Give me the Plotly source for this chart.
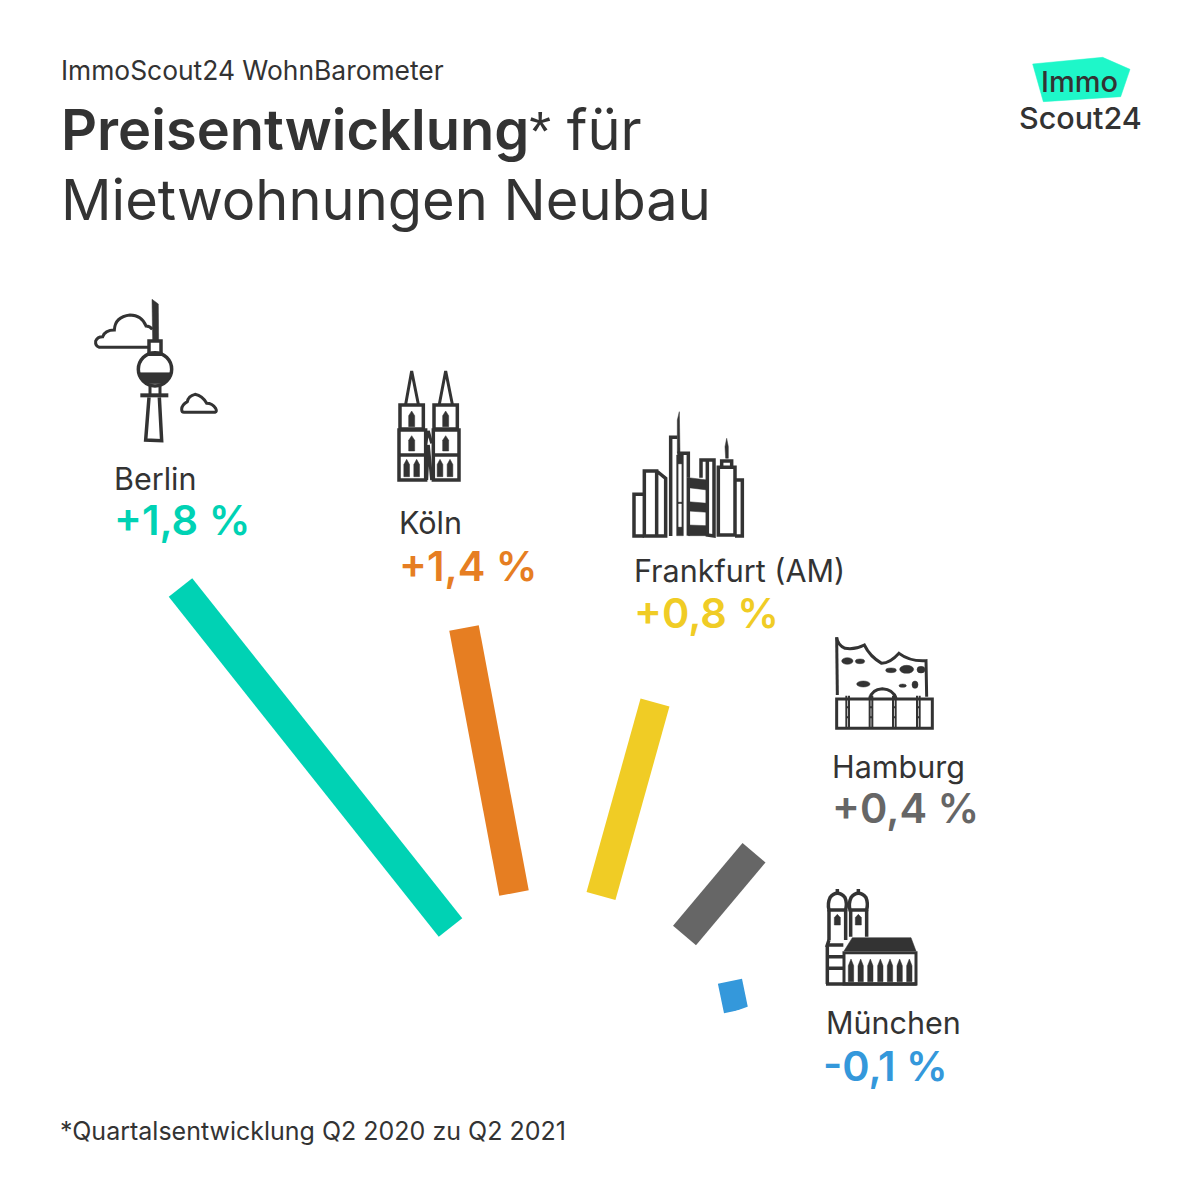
import math
import re
import plotly.graph_objects as go

# ---- data -----------------------------------------------------------------
cities = ["Berlin", "Köln", "Frankfurt (AM)", "Hamburg", "München"]
changes = ["+1,8 %", "+1,4 %", "+0,8 %", "+0,4 %", "-0,1 %"]
r_inner = [183.7, 187.7, 183.6, 187.0, 178.2]
r_outer = [617.8, 457.2, 384.4, 295.0, 202.2]
theta_inner = [126.59, 104.18, 77.10, 48.25, 25.42]
theta_outer = [127.90, 102.12, 75.69, 48.88, 23.77]
colors = ["#00D2B4", "#E67E22", "#F0CC25", "#666666", "#3498DB"]
city_pos = [(114, 478), (399, 522), (634, 570), (832, 766), (826, 1022)]
value_pos = [(113.5, 520), (399, 566), (633.5, 613), (831.5, 808), (823, 1066)]

W = H = 1200
FONT = "Inter"
INK = "#333333"
CX, CY, R = 560.0, 1075.0, 650.0
SECTOR = [20, 140]

fig = go.Figure()
for i, city in enumerate(cities):
    fig.add_trace(go.Scatterpolar(
        r=[r_inner[i], r_outer[i]],
        theta=[theta_inner[i], theta_outer[i]],
        mode="lines",
        line=dict(color=colors[i], width=30),
        name=city,
        showlegend=False,
        hovertemplate=city + " " + changes[i] + "<extra></extra>",
    ))


def px(x, y):
    return x / W, 1 - y / H


def path(ox, oy, s):
    out = []
    for tok in re.findall(r"[MLQCZ]|-?\d+\.?\d*\s+-?\d+\.?\d*", s):
        if tok in "MLQCZ":
            out.append(tok)
        else:
            a, b = tok.split()
            xp, yp = px(ox + float(a) / 3, oy + float(b) / 3)
            out.append(f"{xp:.5f},{yp:.5f}")
    return " ".join(out)


shapes = []


def stroke(ox, oy, s, w=3):
    shapes.append(dict(type="path", xref="paper", yref="paper", path=path(ox, oy, s),
                       line=dict(color=INK, width=w), fillcolor="rgba(0,0,0,0)"))


def fill(ox, oy, s, color=INK):
    shapes.append(dict(type="path", xref="paper", yref="paper", path=path(ox, oy, s),
                       line=dict(color=color, width=0.5), fillcolor=color))


def ell(ox, oy, cx, cy, rx, ry, filled=False, w=3):
    x0, y0 = px(ox + (cx - rx) / 3, oy + (cy + ry) / 3)
    x1, y1 = px(ox + (cx + rx) / 3, oy + (cy - ry) / 3)
    shapes.append(dict(type="circle", xref="paper", yref="paper", x0=x0, y0=y0, x1=x1, y1=y1,
                       line=dict(color=INK, width=0.5 if filled else w),
                       fillcolor=INK if filled else "rgba(0,0,0,0)"))


def gothic(ox, oy, xc, top, bottom, w):
    h = w / 2
    fill(ox, oy, f"M{xc} {top} L{xc + h} {top + (bottom - top) * 0.3} L{xc + h} {bottom} "
                 f"L{xc - h} {bottom} L{xc - h} {top + (bottom - top) * 0.3} Z")


# Logo
fill(1010, 50, "M68 42 L278 22 L360 58 L332 140 L100 155 Z", "#1EF7C9")

# Berlin
O = (80, 290)
fill(*O, "M216 28 L235 42 L236 150 L218 150 Z")
stroke(*O, "M207 153 L243 153 L243 193 L207 193 Z", 3.5)
ell(*O, 225, 238, 50, 50, w=3.5)
fill(*O, "M176 248 L274 248 L268 265 L250 281 L200 281 L182 265 Z")
stroke(*O, "M210 285 L210 313 M240 285 L240 313")
stroke(*O, "M181 316 L265 316", 4)
stroke(*O, "M207 322 L197 450 L245 452 L238 322", 3.5)
stroke(*O, "M205 172 L58 172 Q45 168 47 153 Q52 140 68 140 Q75 120 103 120 Q105 80 150 75 Q185 75 198 108 Q210 108 217 118")
stroke(*O, "M312 367 L405 367 Q412 365 407 355 Q397 340 380 340 Q368 318 345 313 Q325 318 322 335 Q305 345 305 358 Q305 367 312 367")

# Köln
O = (385, 365)
stroke(*O, "M62 118 L80 18 L100 118 M163 118 L182 18 L202 118")
stroke(*O, "M45 120 L115 120 L115 192 L45 192 Z M147 120 L217 120 L217 192 L147 192 Z", 3.5)
stroke(*O, "M42 195 L122 195 L122 345 L42 345 Z M42 270 L122 270", 3.5)
stroke(*O, "M145 195 L222 195 L222 345 L145 345 Z M145 270 L222 270", 3.5)
stroke(*O, "M122 235 L130 198 L140 235 M125 345 L130 240 L140 345")
for x, t, b, w in [(80, 138, 185, 18), (182, 138, 185, 18), (80, 212, 258, 18), (182, 212, 258, 18),
                   (65, 283, 335, 17), (95, 283, 335, 17), (165, 283, 335, 17), (195, 283, 335, 17)]:
    gothic(*O, x, t, b, w)

# Frankfurt
O = (620, 405)
stroke(*O, "M72 268 L42 268 L42 393 L72 393", 3.5)
stroke(*O, "M73 393 L73 198 L110 198 L110 393 Z M110 198 L137 220 L137 393 L110 393", 3.5)
stroke(*O, "M152 393 L152 97 L172 97", 3.5)
fill(*O, "M178 20 L172 45 L172 145 L180 145 Z")
stroke(*O, "M172 145 L205 145 L205 218", 3.5)
fill(*O, "M170 150 L190 150 L190 392 L170 392 Z")
fill(*O, "M176 178 L184 178 L184 290 L176 290 Z M176 297 L184 297 L184 365 L176 365 Z", "#FFFFFF")
stroke(*O, "M205 218 L205 392", 3.5)
fill(*O, "M205 218 L262 225 L262 255 L205 248 Z")
fill(*O, "M205 290 L262 295 L262 322 L205 318 Z")
fill(*O, "M205 360 L262 362 L262 392 L205 392 Z")
stroke(*O, "M243 218 L243 165 L282 165 L282 393 L262 390 L262 170", 3.5)
fill(*O, "M320 100 L315 125 L317 160 L325 160 L325 125 Z")
stroke(*O, "M305 187 L305 168 L335 168 L335 187", 3.5)
stroke(*O, "M295 187 L345 187 L345 390 L295 390 Z", 3.5)
stroke(*O, "M345 225 L367 225 L367 393 L345 393", 3.5)

# Hamburg
O = (825, 630)
stroke(*O, "M35 22 Q38 45 60 55 Q90 60 118 45 Q135 80 170 100 Q195 100 222 70 Q255 95 303 92 L305 200")
stroke(*O, "M35 22 L37 195")
stroke(*O, "M35 207 L322 207 L322 295 L35 295 Z", 3)
stroke(*O, "M135 205 Q140 178 172 176 Q205 178 213 205", 3)
for x in (68, 138, 208, 280):
    stroke(*O, f"M{x - 4} 197 L{x - 4} 295 M{x + 4} 197 L{x + 4} 295 M{x - 4} 232 L{x + 4} 232 M{x - 4} 262 L{x + 4} 262", 2)
for cx, cy, rx, ry in [(67, 93, 17, 10), (105, 94, 14, 7), (198, 121, 16, 7), (245, 118, 21, 12),
                       (288, 119, 12, 10), (115, 162, 20, 9), (233, 167, 11, 5), (270, 164, 9, 11)]:
    ell(*O, cx, cy, rx, ry, filled=True)

# München
O = (815, 885)
stroke(*O, "M67 12 L67 25 M130 12 L130 25", 3.5)
stroke(*O, "M42 75 Q37 55 45 38 Q55 25 67 25 Q80 25 90 38 Q97 55 92 75 Z", 3.5)
stroke(*O, "M105 75 Q100 55 108 38 Q118 25 130 25 Q143 25 153 38 Q160 55 155 75 Z", 3.5)
stroke(*O, "M42 75 L42 165 M92 75 L92 165 M107 75 L107 155 M155 75 L155 155", 3.5)
gothic(*O, 67, 88, 120, 18)
gothic(*O, 130, 88, 120, 18)
stroke(*O, "M42 165 L37 180 L85 180 M37 180 L37 297 M37 215 L85 215 M37 250 L85 250", 3.5)
fill(*O, "M112 158 L288 158 L303 198 L87 198 Z")
stroke(*O, "M87 203 L303 203 L303 297 L87 297 Z", 3)
stroke(*O, "M33 297 L305 297", 3.5)
for x in (108, 137, 166, 196, 225, 254, 283):
    gothic(*O, x, 222, 290, 16)


def label(text, x, y, size, color=INK, anchor="left"):
    xp, yp = px(x, y)
    return dict(text=text, x=xp, y=yp, xref="paper", yref="paper", xanchor=anchor, yanchor="middle",
                showarrow=False, font=dict(family=FONT, size=size, color=color), borderpad=0, borderwidth=0)


def semi(text, weight=600):
    return f'<span style="font-weight:{weight}">{text}</span>'


annotations = [
    label("ImmoScout24 WohnBarometer", 61, 70, 26.4),
    label(semi("Preisentwicklung") + '<span style="font-family:Liberation Sans">*</span> für', 61, 130, 56),
    label("Mietwohnungen Neubau", 61, 200, 56),
    label("*Quartalsentwicklung Q2 2020 zu Q2 2021", 60, 1131, 25),
    label(semi("Immo", 500), 1079, 81, 29, anchor="center"),
    label(semi("Scout24", 500), 1080, 117, 30.5, anchor="center"),
]
for i, city in enumerate(cities):
    annotations.append(label(city, *city_pos[i], 30.5))
    annotations.append(label(semi(changes[i]), *value_pos[i], 41.5, colors[i]))

left = CX + R * math.cos(math.radians(SECTOR[1]))
right = CX + R * math.cos(math.radians(SECTOR[0]))
top = CY - R
bottom = CY  # plotly's sector box always holds the pole

fig.update_layout(
    width=W, height=H, margin=dict(l=0, r=0, t=0, b=0),
    paper_bgcolor="#FFFFFF", plot_bgcolor="#FFFFFF",
    showlegend=False,
    polar=dict(
        domain=dict(x=[left / W, right / W], y=[1 - bottom / H, 1 - top / H]),
        sector=SECTOR,
        bgcolor="rgba(0,0,0,0)",
        radialaxis=dict(visible=False, range=[0, R]),
        angularaxis=dict(visible=False, direction="counterclockwise", rotation=0),
    ),
    shapes=shapes,
    annotations=annotations,
)
fig.write_html("out.html", config={"displayModeBar": False},
               post_script="document.body.style.margin='0';")
